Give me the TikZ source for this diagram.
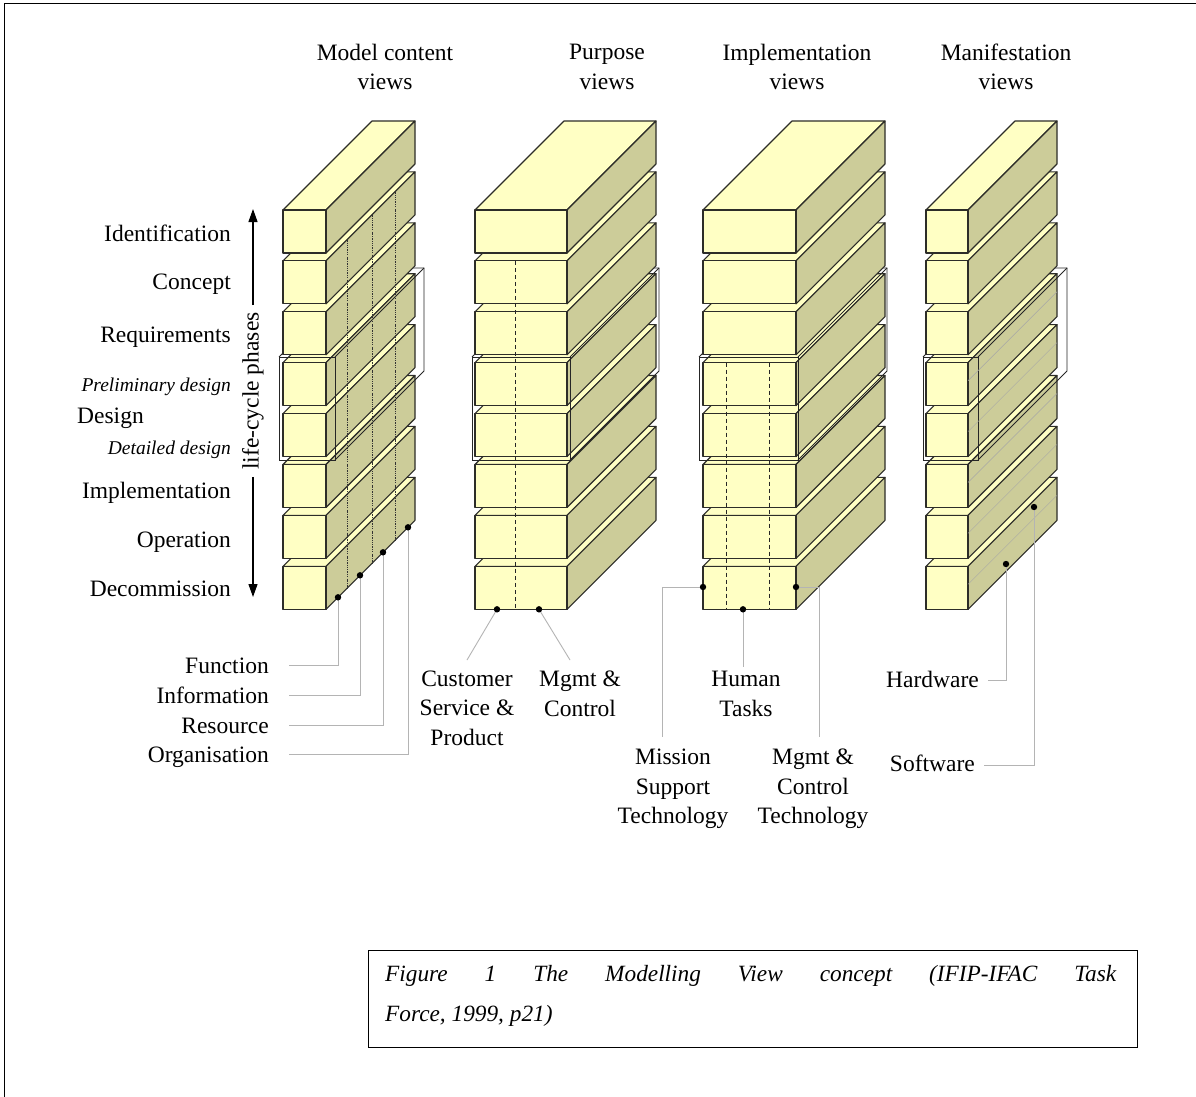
\documentclass[tikz,border=0pt]{standalone}
\usepackage{fontspec}
\setmainfont{Liberation Serif}
\usetikzlibrary{arrows.meta,calc}
\definecolor{frontc}{RGB}{255,255,196}
\definecolor{sidec}{RGB}{204,204,153}
\definecolor{edgec}{RGB}{45,45,40}
\definecolor{connc}{RGB}{180,180,180}
\newcommand{\depthv}{89}
\newcommand{\drawblock}[4]{%
  \filldraw[blk, fill=frontc] (#1,#2) -- ++(#3,0) -- ++(\depthv,-\depthv) -- ++(-#3,0) -- cycle;
  \filldraw[blk, fill=sidec] (#1+#3,#2) -- ++(\depthv,-\depthv) -- ++(0,#4) -- ++(-\depthv,\depthv) -- cycle;
  \filldraw[blk, fill=frontc] (#1,#2) rectangle ++(#3,#4);
}
\newcommand{\drawencl}[4]{%
  \draw[encl] (#1,#3) rectangle (#2,#4);
  \draw[encl] (#1,#3) -- ++(\depthv,-\depthv) -- (#2+\depthv,#3-\depthv) -- (#2+\depthv,#4-\depthv) -- (#2,#4);
  \draw[encl] (#2,#3) -- ++(\depthv,-\depthv);
}
\newcommand{\drawcolumn}[4]{%
  \foreach \k in {7,6,5,4,3}{\drawblock{#1}{210+50.9*\k}{#2}{43}}
  \drawencl{#1-#3}{#1+#2+#4}{357}{460}
  \foreach \k in {2,1,0}{\drawblock{#1}{210+50.9*\k}{#2}{43}}
}
\tikzset{
  blk/.style={draw=edgec, line width=1.1pt, line join=round},
  encl/.style={draw=black!85, line width=0.9pt, line join=miter},
  dotl/.style={draw=black!80, line width=0.6pt, dash pattern=on 1.6pt off 1.2pt on 0.6pt off 1.2pt},
  dashl/.style={draw=black!85, line width=1pt, dash pattern=on 4pt off 3pt},
  hsl/.style={draw=black!35, line width=0.4pt},
  conn/.style={draw=connc, line width=0.9pt},
  dotm/.style={fill=black},
  lbl/.style={font=\fontsize{23.5}{29.5}\selectfont, inner sep=0pt},
  ilbl/.style={font=\fontsize{19.5}{24}\selectfont\itshape, inner sep=0pt},
  mlbl/.style={font=\fontsize{23.5}{29.5}\selectfont, inner sep=0pt, align=center},
  lcarrow/.style={draw=black, line width=1.2pt, -{Triangle[length=13pt,width=9pt]}},
  capf/.style={font=\fontsize{23.3}{30}\selectfont\itshape, inner sep=0pt}
}
\begin{document}
\begin{tikzpicture}[x=1pt,y=-1pt]
\useasboundingbox (0,0) rectangle (1196,1097);
\fill[white] (0,0) rectangle (1196,1097);
\draw[line width=1pt] (4,1097) -- (4,4) -- (1196,4);

% headers
\node[mlbl] (h1) at (385,67) {Model content\\views};
\node[mlbl] (h2) at (607,67) {Purpose\\views};
\node[mlbl] (h3) at (797,67) {Implementation\\views};
\node[mlbl] (h4) at (1006,67) {Manifestation\\views};

% columns
\drawcolumn{283}{43}{4}{9}
\drawcolumn{475}{92}{3}{3}
\drawcolumn{703}{93}{4}{2}
\drawcolumn{926}{42}{3}{10}

% column 1 dotted divisions
\foreach \xx in {347,372,395}{
  \draw[dotl] (\xx,{260.9-(\xx-326)}) -- (\xx,{609.3-(\xx-326)});
}
% column 2 dashed division
\draw[dashl] (515,260.9) -- (515,609.3);
% column 3 dashed divisions
\draw[dashl] (726,362.7) -- (726,609.3);
\draw[dashl] (769,362.7) -- (769,609.3);
% column 4 hardware/software lines
\foreach \k in {3,4,5,6,7}{
  \draw[hsl] (968,{210+50.9*\k+18}) -- ++(\depthv,-\depthv);
}

% left labels
\node[lbl, anchor=base east] (l1) at (231,241) {Identification};
\node[lbl, anchor=base east] (l2) at (231,289) {Concept};
\node[lbl, anchor=base east] (l3) at (231,342) {Requirements};
\node[ilbl, anchor=base east] (l4) at (231,391) {Preliminary design};
\node[lbl, anchor=base west] (l5) at (77,423) {Design};
\node[ilbl, anchor=base east] (l6) at (231,454) {Detailed design};
\node[lbl, anchor=base east] (l7) at (231,498) {Implementation};
\node[lbl, anchor=base east] (l8) at (231,547) {Operation};
\node[lbl, anchor=base east] (l9) at (231,596) {Decommission};

% life-cycle arrow
\node[lbl, rotate=90, inner sep=7pt] (lc) at (253,391) {life-cycle phases};
\coordinate (lcTop) at (253,209);
\coordinate (lcBot) at (253,597);
\draw[lcarrow] (lc.east) -- (lcTop);
\draw[lcarrow] (lc.west) -- (lcBot);

% column 1 dots and labels
\coordinate (d1) at (338,{609.3-12});
\coordinate (d2) at (360,{609.3-34});
\coordinate (d3) at (383,{609.3-57});
\coordinate (d4) at (408,{609.3-82});
\node[lbl, anchor=base east] (f1) at (269,673) {Function};
\node[lbl, anchor=base east] (f2) at (269,703) {Information};
\node[lbl, anchor=base east] (f3) at (269,733) {Resource};
\node[lbl, anchor=base east] (f4) at (269,762) {Organisation};
\coordinate (e1) at (289,665);
\coordinate (e2) at (289,695);
\coordinate (e3) at (289,725);
\coordinate (e4) at (289,754);
\draw[conn] (d1) |- (e1);
\draw[conn] (d2) |- (e2);
\draw[conn] (d3) |- (e3);
\draw[conn] (d4) |- (e4);

% column 2
\coordinate (p1) at (497,609.3);
\coordinate (p2) at (539,609.3);
\coordinate (pe1) at (467,660);
\coordinate (pe2) at (570,660);
\draw[conn] (p1) -- (pe1);
\draw[conn] (p2) -- (pe2);
\node[mlbl] (cs) at (467,708) {Customer\\Service \&\\Product};
\node[mlbl] (mc) at (580,694) {Mgmt \&\\Control};

% column 3
\coordinate (m1) at (703,587);
\coordinate (m2) at (743,609.3);
\coordinate (m3) at (796,587);
\coordinate (me1) at (662,737);
\coordinate (me2) at (743,667);
\coordinate (me3) at (819,737);
\draw[conn] (m1) -| (me1);
\draw[conn] (m2) -- (me2);
\draw[conn] (m3) -| (me3);
\node[mlbl] (ht) at (746,694) {Human\\Tasks};
\node[mlbl] (ms) at (673,789) {Mission\\Support\\Technology};
\node[mlbl] (mt) at (813,789) {Mgmt \&\\Control\\Technology};

% column 4
\coordinate (hw) at (1006,564);
\coordinate (sw) at (1034,507);
\coordinate (hwe) at (988,680);
\coordinate (swe) at (984,765);
\draw[conn] (hw) |- (hwe);
\draw[conn] (sw) |- (swe);
\node[lbl, anchor=base east] (hl) at (979,687) {Hardware};
\node[lbl, anchor=base east] (sl) at (975,771) {Software};

% dots
\foreach \c in {d1,d2,d3,d4,p1,p2,m1,m2,m3,hw,sw}{
  \fill[dotm] (\c) circle (3.2pt);
}

% caption
\node[draw=black, line width=1pt, minimum width=769pt, minimum height=97pt, inner sep=0pt, anchor=north west] (capbox) at (368,950) {};
\node[capf, anchor=base west] (cap1) at (385,981) {\makebox[731pt][s]{Figure 1 The Modelling View concept (IFIP-IFAC Task}};
\node[capf, anchor=base west] (cap2) at (385,1021) {Force, 1999, p21)};
\end{tikzpicture}
\end{document}
